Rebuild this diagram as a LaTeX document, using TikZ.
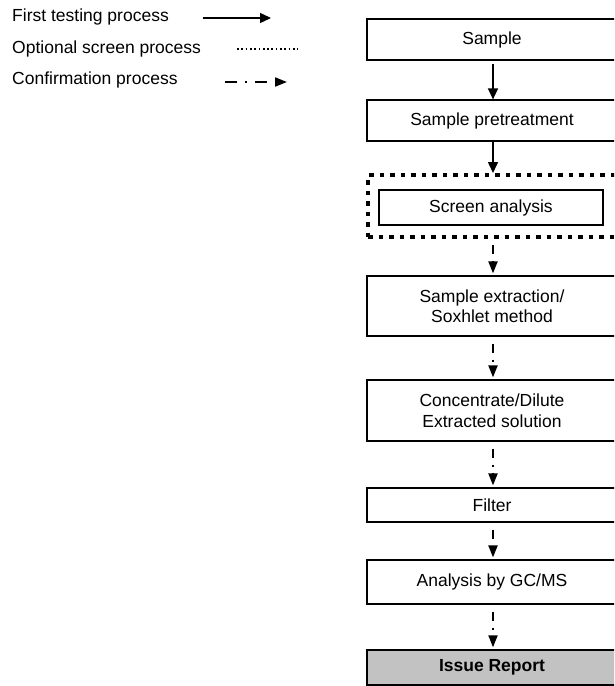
\documentclass[tikz,border=0pt]{standalone}
\usepackage{fontspec}
\setmainfont{Liberation Sans}
\usetikzlibrary{arrows.meta}

\tikzset{
  stepbox/.style={draw, line width=1.2pt, inner sep=0pt, minimum width=250pt, align=center},
  reportbox/.style={stepbox, fill=black!24, line width=1.4pt},
  optframe/.style={draw, line width=4pt, dash pattern=on 4.5pt off 6pt, inner sep=0pt, minimum width=250pt},
  firstflow/.style={line width=1.5pt, -{Triangle[length=11pt, width=10pt]}},
  confirmflow/.style={line width=2pt, dash pattern=on 9pt off 7pt on 2pt off 6pt,
                      -{Triangle[length=12pt, width=9pt]}},
  optline/.style={line width=1.7pt, dash pattern=on 1.7pt off 2.6pt},
  legendtext/.style={anchor=base west, inner sep=0pt}
}

\begin{document}
\begin{tikzpicture}[x=1pt, y=-1pt, font=\fontsize{17.5}{20.5}\selectfont]
  \useasboundingbox (0,0) rectangle (614,686);
  \clip (0,0) rectangle (614,686);

  % legend
  \node[legendtext] (l1) at (12,21) {First testing process};
  \node[legendtext] (l2) at (12,53) {Optional screen process};
  \node[legendtext] (l3) at (12,84) {Confirmation process};
  \coordinate (l1a) at (203,18);
  \coordinate (l1b) at (271,18);
  \coordinate (l2a) at (237,49);
  \coordinate (l2b) at (298,49);
  \coordinate (l3a) at (225,82);
  \coordinate (l3b) at (287,82);
  \draw[firstflow] (l1a) -- (l1b);
  \draw[optline] (l2a) -- (l2b);
  \draw[confirmflow, dash pattern=on 12pt off 8pt on 2pt off 8pt] (l3a) -- (l3b);

  % process steps
  \node[stepbox, minimum height=41pt] (sample) at (492,39.5) {Sample};
  \node[stepbox, minimum height=41pt] (pre) at (492,120.5) {Sample pretreatment};
  \node[optframe, minimum height=62pt] (frame) at (493,206) {};
  \node[stepbox, minimum width=224pt, minimum height=35pt] (screen) at (491,207.5) {Screen analysis};
  \node[stepbox, minimum height=60pt] (extr) at (492,306) {Sample extraction/\\Soxhlet method};
  \node[stepbox, minimum height=61pt] (conc) at (492,410.5) {Concentrate/Dilute\\Extracted solution};
  \node[stepbox, minimum height=34pt] (filter) at (492,505) {Filter};
  \node[stepbox, minimum height=44pt] (gcms) at (492,582) {Analysis by GC/MS};
  \node[reportbox, minimum height=35pt] (report) at (492,667.5) {\bfseries Issue Report};

  % connectors
  \draw[firstflow, shorten <=3pt] (sample.south -| 493,0) -- (pre.north -| 493,0);
  \draw[firstflow] (pre.south -| 493,0) -- (frame.north -| 493,0);
  \draw[confirmflow, shorten <=6pt, shorten >=2pt] (frame.south -| 493,0) -- (extr.north -| 493,0);
  \draw[confirmflow, shorten <=7pt, shorten >=2pt] (extr.south -| 493,0) -- (conc.north -| 493,0);
  \draw[confirmflow, shorten <=7pt, shorten >=2pt] (conc.south -| 493,0) -- (filter.north -| 493,0);
  \draw[confirmflow, shorten <=7pt, shorten >=2pt] (filter.south -| 493,0) -- (gcms.north -| 493,0);
  \draw[confirmflow, shorten <=7pt, shorten >=2pt] (gcms.south -| 493,0) -- (report.north -| 493,0);
\end{tikzpicture}
\end{document}
